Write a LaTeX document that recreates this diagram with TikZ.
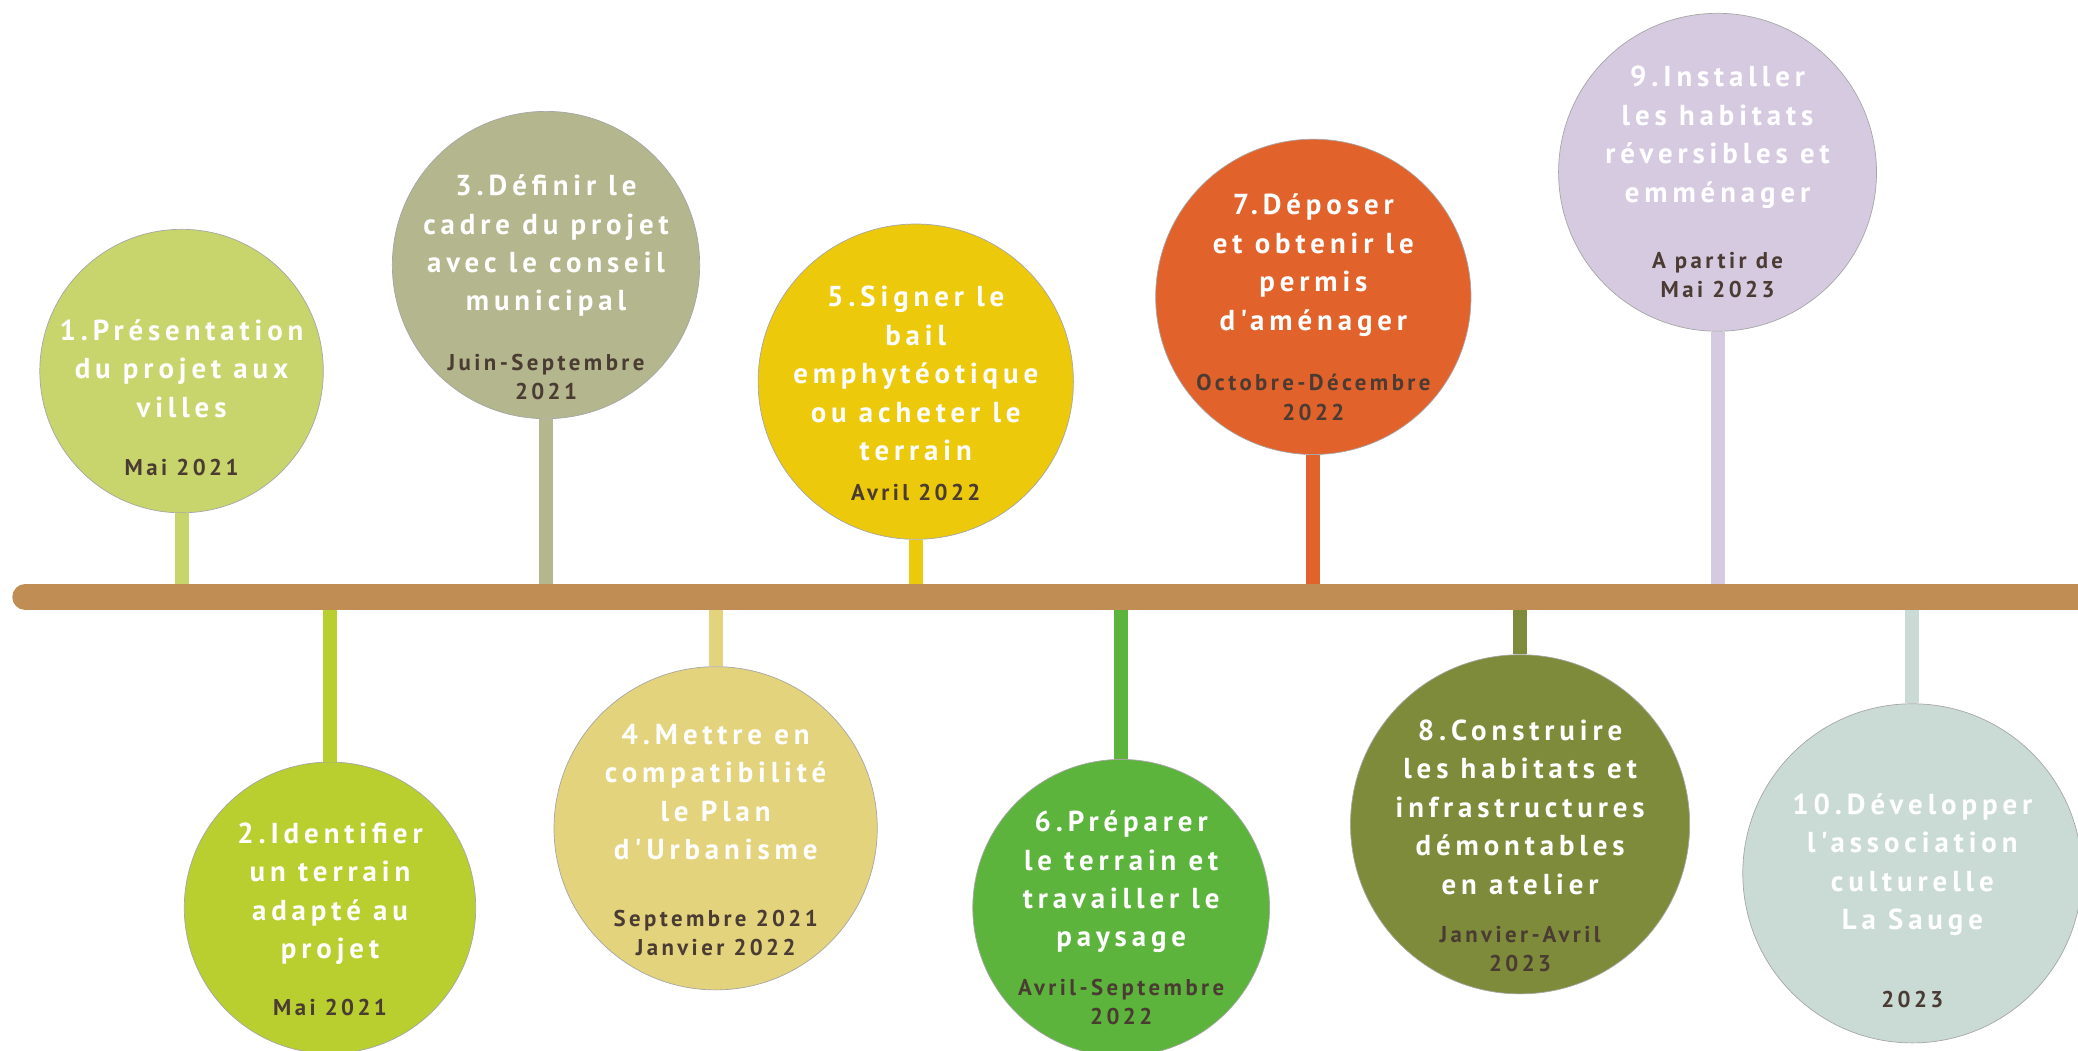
\documentclass[tikz,border=0pt]{standalone}
\usepackage{fontspec}
\setmainfont{PT Sans}
\newfontfamily\stagefont[LetterSpace=17]{PT Sans}
\newfontfamily\datefont[LetterSpace=15]{PT Sans}

\definecolor{barcol}{HTML}{C08E55}
\definecolor{datecol}{HTML}{4A3B33}
\definecolor{col1}{HTML}{C8D56C}
\definecolor{col2}{HTML}{B9CF2F}
\definecolor{col3}{HTML}{B4B68D}
\definecolor{col4}{HTML}{E3D37C}
\definecolor{col5}{HTML}{EDC90C}
\definecolor{col6}{HTML}{5DB43D}
\definecolor{col7}{HTML}{E2622B}
\definecolor{col8}{HTML}{7E8B3B}
\definecolor{col9}{HTML}{D6CAE1}
\definecolor{col10}{HTML}{CADBD5}

\tikzset{
  stage/.style 2 args={circle,fill=#1,draw=black!35,line width=0.3pt,
    minimum size=#2*0.04cm,inner sep=0pt},
  title/.style={text=white,align=center,
    font=\stagefont\bfseries\fontsize{12.4}{16.5}\selectfont},
  date/.style={text=datecol,align=center,
    font=\datefont\bfseries\fontsize{9.8}{12.6}\selectfont},
  stem/.style={line width=0.21cm,draw=#1},
}

\begin{document}
\begin{tikzpicture}[x=0.02cm,y=-0.02cm]
  \useasboundingbox (0,0) rectangle (1568,793);

  % circles
  \node[stage={col1}{107}]  (c1)  at (137,280)  {};
  \node[stage={col2}{110}]  (c2)  at (249,685)  {};
  \node[stage={col3}{116}]  (c3)  at (412,200)  {};
  \node[stage={col4}{122}]  (c4)  at (540,625)  {};
  \node[stage={col5}{119}]  (c5)  at (691,288)  {};
  \node[stage={col6}{112}]  (c6)  at (846,685)  {};
  \node[stage={col7}{119}]  (c7)  at (991,224)  {};
  \node[stage={col8}{128}]  (c8)  at (1147,622) {};
  \node[stage={col9}{120}]  (c9)  at (1296,130) {};
  \node[stage={col10}{128}] (c10) at (1443,659) {};

  % points on the bar
  \foreach \i/\x in {1/137,2/249,3/412,4/540,5/691,6/846,7/991,8/1147,9/1296,10/1443}
    \coordinate (b\i) at (\x,450.5);
  \coordinate (bl) at (19,450.5);
  \coordinate (br) at (1580,450.5);

  % stems
  \foreach \i in {1,...,10}
    \draw[stem=col\i] (c\i) -- (b\i);

  % bar
  \draw[barcol,line width=0.39cm,line cap=round] (bl) -- (br);

  % texts
  \node[title] (t1)  at (137,278)    {1.Présentation\\du projet aux\\villes};
  \node[title] (t2)  at (249,674.5)  {2.Identifier\\un terrain\\adapté au\\projet};
  \node[title] (t3)  at (412,185.5)  {3.Définir le\\cadre du projet\\avec le conseil\\municipal};
  \node[title] (t4)  at (540,597.5)  {4.Mettre en\\compatibilité\\le Plan\\d'Urbanisme};
  \node[title] (t5)  at (691,282)    {5.Signer le\\bail\\emphytéotique\\ou acheter le\\terrain};
  \node[title] (t6)  at (846,665.5)  {6.Préparer\\le terrain et\\travailler le\\paysage};
  \node[title] (t7)  at (991,200)    {7.Déposer\\et obtenir le\\permis\\d'aménager};
  \node[title] (t8)  at (1147,609)   {8.Construire\\les habitats et\\infrastructures\\démontables\\en atelier};
  \node[title] (t9)  at (1296,103.5) {9.Installer\\les habitats\\réversibles et\\emménager};
  \node[title] (t10) at (1443,652.5) {10.Développer\\l'association\\culturelle\\La Sauge};

  \node[date] (d1)  at (137,353)    {Mai 2021};
  \node[date] (d2)  at (249,760)    {Mai 2021};
  \node[date] (d3)  at (412,284.5)  {Juin-Septembre\\2021};
  \node[date] (d4)  at (540,704)    {Septembre 2021\\Janvier 2022};
  \node[date] (d5)  at (691,372)    {Avril 2022};
  \node[date] (d6)  at (846,756)    {Avril-Septembre\\2022};
  \node[date] (d7)  at (991,300)    {Octobre-Décembre\\2022};
  \node[date] (d8)  at (1147,716)   {Janvier-Avril\\2023};
  \node[date] (d9)  at (1296,207.5) {A partir de\\Mai 2023};
  \node[date] (d10) at (1443,754)   {2023};

\end{tikzpicture}
\end{document}
